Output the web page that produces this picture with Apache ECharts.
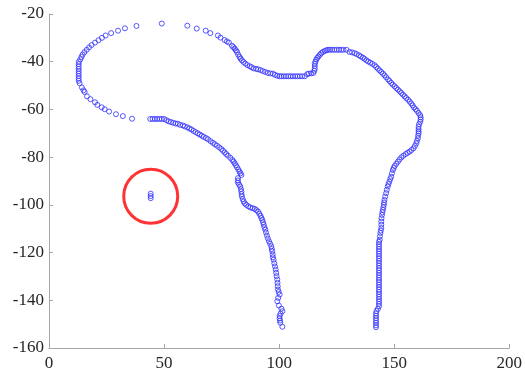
<!DOCTYPE html>
<html>
<head>
<meta charset="utf-8">
<script src="https://cdn.jsdelivr.net/npm/echarts@6/dist/echarts.min.js"></script>
<style>html,body{margin:0;padding:0;background:#fff}#c{width:525px;height:372px}</style>
</head>
<body>
<div id="c"></div>
<script>
// Tick settings
const xTicks = {min: 0, max: 200, interval: 50};
const yTicks = {min: -160, max: -20, interval: 20};

// Left loop (top going left, down, then left leg)
const leftLoop = [
[49,-24],[38,-25],[33,-26],[30,-27],[27,-28],[24.6,-29],[23,-30],[21.5,-31],[20,-32],[18.5,-33],[17.4,-34],[16.4,-35],[15.4,-36],[14.6,-37],[14.1,-38],[13.6,-39],[13,-40],[12.9,-41],[12.9,-42],[12.9,-43],[12.9,-44],[12.9,-45],[12.9,-46],[12.9,-47],[12.9,-48],[13.3,-49],[14.3,-50.8],[15,-52],[15.5,-52.7],[16.5,-54.5],[18,-55.7],[20,-57],[21,-58.1],[22.9,-59.1],[24.2,-59.9],[26.1,-60.9],[29.1,-62],[32.1,-62.8],[36.1,-63.9]
];
const leftLeg = [
[44,-64],[45,-64],[46,-64],[47,-64],[48,-64],[49,-64],[50,-64],
[51,-64.5],[52,-65],[53,-65.3],[54,-65.6],[55,-65.9],[56,-66],[57,-66.5],[58.2,-66.7],[59,-67.1],[60.1,-67.5],[61,-68],[61.9,-68.4],[62.8,-69],[63.7,-69.5],[64.6,-70],[65.5,-70.5],[66.4,-71],[67.2,-71.5],[68.2,-72],[69.1,-72.5],[70.2,-73.3],[71.2,-74],[72.1,-74.6],[73,-75.2],[74,-75.9],[74.9,-76.6],[75.6,-77.3],[76.3,-78],[77,-78.7],[77.8,-79.4],[78.8,-80.3],[79.7,-81.2],[80.2,-81.9],[80.7,-82.6],[81.2,-83.4],[81.7,-84.2],[82.3,-85.2],[82.8,-86.1],[83.2,-86.8],[83.6,-87.5],[82.1,-88.8],[82.1,-89.8],[82.1,-90.7],[82.6,-91.5],[83.1,-92.3],[83.4,-93.4],[83.6,-94.4],[83.7,-95.5],[83.8,-96.5],[84.2,-97.6],[84.6,-98.6],[85.1,-99.4],[85.7,-100],[86.6,-100.6],[87.5,-101.1],[88.5,-101.4],[89.4,-101.7],[90.1,-102.2],[90.8,-102.8],[91.4,-103.7],[91.9,-104.6],[92.3,-105.5],[92.7,-106.3],[93,-107.3],[93.3,-108.3],[93.6,-109.4],[94,-110.4],[94.3,-111.6],[94.7,-112.9],[95.1,-114.1],[95.6,-115.3],[96.1,-116.3],[96.6,-117.4],[96.8,-118.5],[97,-119.5],[97.2,-120.8],[97.3,-122],[97.6,-123],[97.9,-124.5],[98.2,-125.8],[98.5,-127.1],[98.7,-128.5],[98.9,-129.9],[99.2,-131.3],[99.3,-132.7],[99.4,-134.1],[99.5,-135.5],[99.8,-136.5],[100.2,-137.6],[99.6,-139],[99.2,-140.4],[99.9,-142.2],[101,-143.5],[101.4,-144.6],[100.6,-145.6],[100.2,-146.6],[100.2,-147.6],[100.4,-148.5],[100.5,-149.4],[101.4,-151.1]
];
// Right part (top going right, then right leg)
const rightTop = [
[60.1,-24.9],[64.2,-26.1],[68.1,-27],[70.1,-28],[73.4,-29],[74.5,-29.9],[76.3,-30.9],[77.3,-31.5],[78.2,-32],[79.5,-33.3],[80.1,-33.9],[80.7,-34.5],[81.2,-35.2],[81.7,-35.9],[82.2,-37],[82.8,-38],[83.3,-38.7],[83.8,-39.4],[84.5,-40.1],[85.3,-40.8],[86.2,-41.4],[87.2,-41.9],[88,-42.3],[88.9,-42.8],[90,-43],[90.8,-43.2],[91.9,-43.5],[92.9,-43.9],[94,-44.3],[95.1,-44.7],[96.2,-44.9],[97.3,-45],[98.2,-45.5],[99.2,-45.9],[100.2,-46.1],
[101,-46.1],[102,-46.1],[103,-46.1],[104,-46.1],[105,-46.1],[106,-46.1],[107,-46.1],[108,-46.1],[109,-46.1],[110,-46.1],[111.2,-46.1],
[112.2,-45.2],[112.9,-45],[113.9,-44.9],[114.9,-44.7],[115.3,-43.8],[115.5,-42.9],[115.5,-41.8],[115.5,-40.8],[115.8,-40],[116.1,-39.1],[116.6,-38.4],[117.1,-37.8],[117.7,-37.1],[118.3,-36.4],[119,-35.9],[119.8,-35.5],[120.5,-35.2],[121.2,-35],
[122,-35],[123,-35],[124,-35],[125,-35],[126,-35],[127,-35],[128,-35],[129.3,-35],
[130.6,-35.9],[131.7,-36.1],[132.8,-36.4],[133.7,-36.8],[134.7,-37.3],[135.5,-37.8],[136.4,-38.3],[137.1,-38.8],[137.9,-39.4],[138.7,-39.9],[139.6,-40.4],[140.5,-40.9],[141.5,-41.5],[142.2,-42.2],[142.9,-42.9],[143.6,-43.6],[144.4,-44.3],[145.1,-45],[145.8,-45.7],[146.5,-46.5],[147.3,-47.4],[148,-48.1],[148.7,-48.9],[149.4,-49.6],[150.2,-50.3],[150.9,-51],[151.6,-51.7],[152.4,-52.4],[153.1,-53.1],[153.8,-53.8],[154.5,-54.5],[155.2,-55.2],[156,-55.9],[156.7,-56.7],[157.4,-57.5],[158,-58.3],[158.6,-59.2],[159.3,-59.9],[159.9,-60.6],[160.6,-61.5],[161.3,-62.4],[161.5,-63.3],[161.5,-64.2],[161.3,-65.2],[160.8,-66.2],[160.6,-67.3],[160.6,-68.3],[160.6,-69.2],[160.6,-70],[160.4,-71],[160.3,-72.1]
];
const rightLeg = [
[159.9,-73.2],[159.6,-74.2],[159,-75.3],[158.4,-76.3],[157.5,-77],[156.7,-77.7],[155.8,-78.2],[155,-78.7],[154,-79.4],[153.1,-80.1],[152.3,-81],[151.6,-81.9],[150.9,-82.8],[150.2,-83.7],[149.8,-84.5],[149.4,-85.4],[149,-86.8],[148.7,-88.2],[148.3,-89.2],[147.9,-90.3],[147.5,-91.3],[147.2,-92.3],[146.8,-93.7],[146.5,-95.1],[146.1,-96.5],[145.8,-97.9],[145.6,-99],[145.5,-100],[145.3,-101],[145.1,-102.1],[144.9,-103.1],[144.7,-104.2],[144.5,-105.6],[144.4,-107],[144.4,-108.3],[144.4,-109.7],[144.2,-110.8],[144,-111.8],[143.8,-113.2],[143.7,-114.6],
[143.4,-115.5],[143.4,-116.5],[143.4,-117.5],[143.4,-118.5],[143.4,-119.5],[143.4,-120.5],[143.4,-121.5],[143.4,-122.5],[143.4,-123.5],[143.4,-124.5],[143.4,-125.5],[143.4,-126.5],[143.4,-127.5],[143.4,-128.5],[143.4,-129.5],[143.4,-130.5],[143.4,-131.5],[143.4,-132.5],[143.4,-133.5],[143.4,-134.5],[143.4,-135.5],[143.4,-136.5],[143.4,-137.5],[143.4,-138.5],[143.4,-139.5],[143.4,-140.5],[143.4,-141.5],[143.4,-142.5],
[142.9,-143.6],[142.3,-144.5],[142.1,-145.5],[142.1,-146.5],[142.1,-147.5],[142.1,-148.5],[142.1,-149.5],[142.1,-150.5],[142.1,-151.3]
];
// Isolated points
const outliers = [[44.2,-95.3],[44.2,-96.3],[44.2,-97.2]];
// Highlight circle centre
const highlight = [[44.2,-96.4]];

const blue = '#3030ff';
const font = '"Liberation Serif", "Times New Roman", serif';
const pointSeries = (d) => ({
  type: 'scatter', data: d, symbol: 'circle', symbolSize: 5,
  itemStyle: {color: 'rgba(0,0,0,0)', borderColor: blue, borderWidth: 1},
  silent: true
});
const chart = echarts.init(document.getElementById('c'), null, {renderer: 'canvas'});
const axisCommon = {
  axisLine: {show: true, lineStyle: {color: '#a6a6a6', width: 1}},
  axisTick: {show: true, inside: true, length: 4, lineStyle: {color: '#a6a6a6'}},
  splitLine: {show: false},
  axisLabel: {color: '#262626', fontFamily: font, fontSize: 17}
};
chart.setOption({
  animation: false,
  backgroundColor: '#fff',
  grid: {left: 49, right: 15, top: 14, bottom: 23, containLabel: false},
  xAxis: Object.assign({type: 'value', min: xTicks.min, max: xTicks.max, interval: xTicks.interval}, axisCommon,
    {axisLabel: Object.assign({}, axisCommon.axisLabel, {margin: 7})}),
  yAxis: Object.assign({type: 'value', min: yTicks.min, max: yTicks.max, interval: yTicks.interval}, axisCommon,
    {axisLabel: Object.assign({}, axisCommon.axisLabel, {margin: 5})}),
  series: [
    pointSeries(leftLoop), pointSeries(leftLeg), pointSeries(rightTop), pointSeries(rightLeg), pointSeries(outliers),
    {type: 'scatter', data: highlight, symbol: 'circle', symbolSize: 54,
     itemStyle: {color: 'rgba(0,0,0,0)', borderColor: '#ff0000', borderWidth: 3}, silent: true, z: 3}
  ]
});
</script>
</body>
</html>
